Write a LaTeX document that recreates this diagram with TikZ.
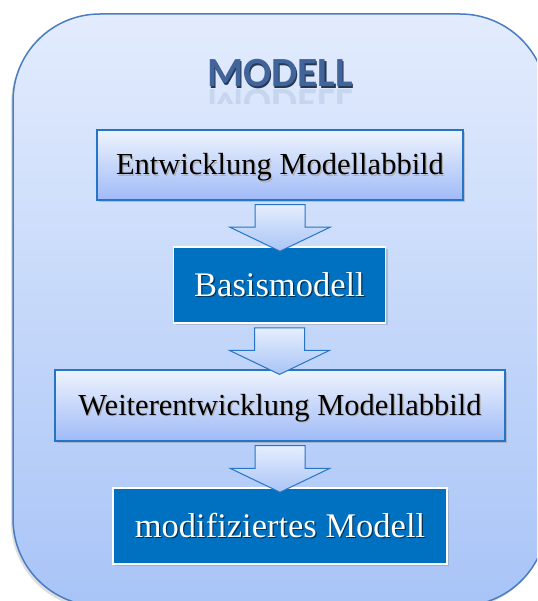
\documentclass[tikz,border=0pt]{standalone}
\usepackage{fontspec}
\setmainfont{Liberation Serif}
\newfontfamily\titlefont{Carlito}
\usetikzlibrary{calc,shadows}
\definecolor{outertop}{HTML}{E3ECFD}
\definecolor{outerbot}{HTML}{A8C4F7}
\definecolor{outerline}{HTML}{4A7CC1}
\definecolor{boxline}{HTML}{2575C4}
\definecolor{darkbox}{HTML}{0070C0}
\definecolor{titleblue}{HTML}{41649A}
\newcommand\tshadow[2]{\makebox[0pt][l]{\hspace{1.2pt}\raisebox{-1.2pt}{\color{#1}#2}}#2}
\tikzset{
  outerbox/.style={draw=outerline, line width=1.5pt,
    top color=outertop, bottom color=outerbot},
  lightbox/.style={draw=boxline, line width=1.2pt, top color=outertop!60!white, bottom color=outerbot!95!blue,
    inner sep=0pt, text height=20pt, text depth=0pt, font=\fontsize{30.5}{34}\selectfont,
    drop shadow={opacity=0.35, shadow xshift=2pt, shadow yshift=-2pt}},
  darkboxstyle/.style={draw=white, line width=1.5pt, fill=darkbox, text=white,
    inner sep=0pt, text height=22pt, text depth=0pt, font=\fontsize{34.5}{38}\selectfont,
    drop shadow={opacity=0.35, shadow xshift=2pt, shadow yshift=-2pt}},
  arrowbox/.style={draw=boxline, line width=1pt, line join=miter,
    top color=outertop!90!white, bottom color=outerbot},
  titlestyle/.style={text=titleblue, font=\titlefont\bfseries\fontsize{41.5}{44}\selectfont, inner sep=0pt}
}
\newcommand\flowarrow[2]{%
  \draw[arrowbox] let \p1=($(#1.south)+(0,4)$), \p2=($(#2.north)+(0,5)$) in
    (\x1-25pt,\y1) -- (\x1+25pt,\y1) -- (\x1+25pt,\y2+24pt) -- (\x1+50pt,\y2+24pt)
    -- (\x1,\y2) -- (\x1-50pt,\y2+24pt) -- (\x1-25pt,\y2+24pt) -- cycle;}
\newcommand\outerpath{(13,101) arc[start angle=180, end angle=270, radius=87] -- (460,14)
  arc[start angle=270, end angle=360, radius=87] -- (547,519)
  arc[start angle=0, end angle=90, radius=87] -- (100,606)
  arc[start angle=90, end angle=180, radius=87] -- cycle}
\begin{document}
\begin{tikzpicture}[x=1pt,y=-1pt]
\useasboundingbox (0,0) rectangle (537,601);
\clip (0,0) rectangle (537,601);
% outer shadow and shape
\begin{scope}[shift={(-2,3)}]
\fill[black, opacity=0.13] \outerpath;
\end{scope}
\path[outerbox] \outerpath;
% title with reflection
\node[titlestyle, anchor=base] (title) at (280,87) {\tshadow{titleblue!55!black}{MODELL}};
\begin{scope}
\clip (0,89) rectangle (537,104);
\node[titlestyle, anchor=base, yscale=-1, transform shape, opacity=0.13] (titlerefl) at (280,90) {MODELL};
\end{scope}
% boxes
\node[lightbox, minimum width=366pt, minimum height=70pt] (b1) at (280,165) {\tshadow{black!30}{Entwicklung Modellabbild}};
\node[darkboxstyle, minimum width=212pt, minimum height=76pt] (b2) at (279.5,285) {\tshadow{darkbox!45!black}{Basismodell}};
\node[lightbox, minimum width=450pt, minimum height=71pt] (b3) at (280,405.5) {\tshadow{black!30}{Weiterentwicklung Modellabbild}};
\node[darkboxstyle, minimum width=334pt, minimum height=76pt] (b4) at (280,526) {\tshadow{darkbox!45!black}{modifiziertes Modell}};
% arrows
\flowarrow{b1}{b2}
\flowarrow{b2}{b3}
\flowarrow{b3}{b4}
\end{tikzpicture}
\end{document}
